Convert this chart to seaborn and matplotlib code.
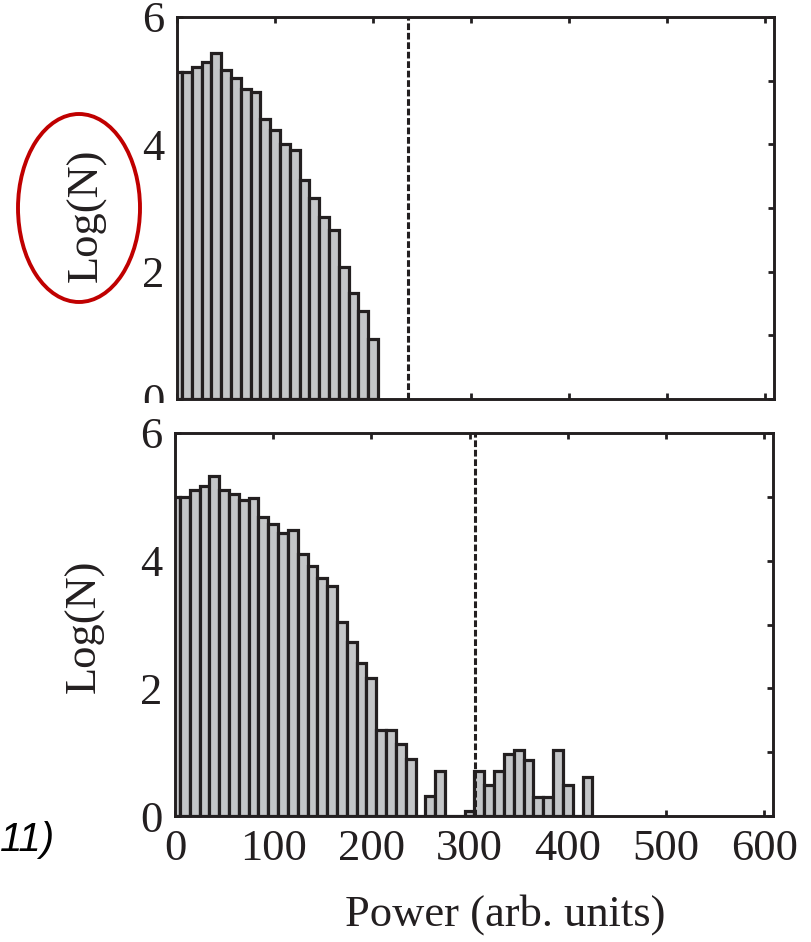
import numpy as np
import pandas as pd
import matplotlib
matplotlib.use("Agg")
import matplotlib.pyplot as plt
import seaborn as sns
from matplotlib.patches import Ellipse, Rectangle

# ---- data ----
bin_centers_top = [0, 10, 20, 30, 40, 50, 60, 70, 80, 90, 100, 110, 120, 130,
                   140, 150, 160, 170, 180, 190, 200]
logn_top = [5.13, 5.14, 5.22, 5.29, 5.44, 5.16, 5.04, 4.87, 4.82, 4.40, 4.22,
            4.00, 3.91, 3.44, 3.15, 2.86, 2.65, 2.08, 1.67, 1.39, 0.95]

bin_centers_bottom = [0, 10, 20, 30, 40, 50, 60, 70, 80, 90, 100, 110, 120, 130,
                      140, 150, 160, 170, 180, 190, 200, 210, 220, 230, 240, 250,
                      260, 270, 280, 290, 300, 310, 320, 330, 340, 350, 360, 370,
                      380, 390, 400, 410, 420]
logn_bottom = [5.00, 5.00, 5.11, 5.17, 5.32, 5.11, 5.05, 4.95, 4.98, 4.69, 4.57,
               4.44, 4.48, 4.11, 3.92, 3.73, 3.61, 3.04, 2.73, 2.40, 2.16, 1.34,
               1.34, 1.13, 0.90, 0.0, 0.31, 0.71, 0.0, 0.0, 0.08, 0.71, 0.48,
               0.71, 0.97, 1.03, 0.87, 0.30, 0.30, 1.03, 0.49, 0.0, 0.61]

threshold_top = 236
threshold_bottom = 306
bin_width = 10

x_ticks = [0, 100, 200, 300, 400, 500, 600]
x_tick_labels = ["0", "100", "200", "300", "400", "500", "600"]
y_ticks = [0, 1, 2, 3, 4, 5, 6]
y_tick_labels = ["0", "", "2", "", "4", "", "6"]
y_label = "Log(N)"
x_label = "Power (arb. units)"
side_text = "11)"

# ---- style ----
sns.set_theme(style="ticks")
plt.rcParams["font.family"] = ["Liberation Serif", "DejaVu Serif"]
plt.rcParams["axes.linewidth"] = 2.1

FILL = "#c4c6c8"
EDGE = "#231f20"
FS = 32

W, H = 812, 942
fig = plt.figure(figsize=(W / 100, H / 100), dpi=100)
ax_top = fig.add_axes([177 / W, 1 - 399 / H, (774 - 177) / W, (399 - 17) / H])
ax_bot = fig.add_axes([175 / W, 1 - 816 / H, (773 - 175) / W, (816 - 433) / H])


def draw(ax, centers, values, thr, label_y):
    df = pd.DataFrame({"power": centers, "logn": values})
    edges = [c - bin_width / 2 for c in centers] + [centers[-1] + bin_width / 2]
    sns.histplot(data=df, x="power", weights="logn", bins=edges, ax=ax,
                 color=FILL, edgecolor=EDGE, linewidth=2.3, alpha=1,
                 legend=False)
    for p in ax.patches:
        p.set_facecolor(FILL)
        p.set_edgecolor(EDGE)
        p.set_linewidth(2.3)
        p.set_alpha(1)
    ax.axvline(thr, color=EDGE, lw=2.2, ls=(0, (2.2, 0.9)), zorder=5)
    ax.set_xlim(0, 609)
    ax.set_ylim(0, 6)
    ax.set_xticks(x_ticks)
    ax.set_yticks(y_ticks)
    ax.set_yticklabels(y_tick_labels)
    ax.tick_params(direction="in", top=True, right=True, length=4,
                   width=2.0, color=EDGE, labelsize=FS, pad=9)
    for s in ax.spines.values():
        s.set_color(EDGE)
        s.set_linewidth(2.1)
        s.set_zorder(6)
    ax.set_ylabel(y_label, fontsize=FS, color="#231f20")
    ax.yaxis.set_label_coords(-0.118, label_y)
    ax.set_xlabel("")


draw(ax_top, bin_centers_top, logn_top, threshold_top, 0.482)
draw(ax_bot, bin_centers_bottom, logn_bottom, threshold_bottom, 0.495)

ax_top.set_xticklabels([])
ax_bot.set_xticklabels(x_tick_labels)
ax_bot.set_xlabel(x_label, fontsize=FS, color="#231f20")
ax_bot.xaxis.set_label_coords(0.553, -0.205)
ax_bot.xaxis.label.set_va("top")

for lab in ax_top.get_yticklabels() + ax_bot.get_yticklabels() + ax_bot.get_xticklabels():
    lab.set_color("#231f20")

# white band covering the lower half of the top panel's "0" (as in the reference crop)
fig.patches.append(Rectangle((120 / W, 1 - 416 / H), 54 / W, 13 / H,
                             transform=fig.transFigure, facecolor="white",
                             edgecolor="none", zorder=10))

# red highlight ellipse around the top y-label
fig.patches.append(Ellipse((79 / W, 1 - 208 / H), 122 / W, 188 / H,
                           transform=fig.transFigure, fill=False,
                           edgecolor="#c00000", linewidth=2.8, zorder=11))

fig.text(0 / W, 1 - 840 / H, side_text, fontsize=29, fontstyle="italic",
         family=["Liberation Sans", "DejaVu Sans"], ha="left", va="center",
         color="black")

fig.savefig("out.png", dpi=100, facecolor="white")
